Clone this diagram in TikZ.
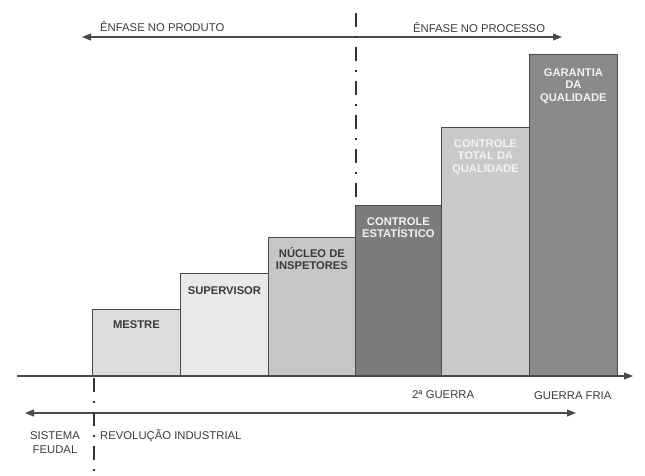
\documentclass[tikz,border=0pt]{standalone}
\usepackage{fontspec}
\setmainfont{Liberation Sans}
\usetikzlibrary{positioning,arrows.meta}
\definecolor{linegray}{HTML}{4A4A4A}
\definecolor{darktext}{HTML}{3A3A3A}
\definecolor{lighttext}{HTML}{F2F2F2}
\definecolor{fillmestre}{HTML}{DDDDDD}
\definecolor{fillsuper}{HTML}{E9E9E9}
\definecolor{fillnucleo}{HTML}{C6C6C6}
\definecolor{fillestat}{HTML}{7C7C7C}
\definecolor{filltotal}{HTML}{C9C9C9}
\definecolor{fillgarantia}{HTML}{8A8A8A}

\begin{document}
\begin{tikzpicture}[
    x=1pt,y=-1pt,
    bar/.style={draw=linegray,line width=0.8pt,anchor=south west,inner sep=0pt},
    barlabel/.style={font=\bfseries\fontsize{11.2}{12.5}\selectfont,align=center,inner sep=0pt},
    tag/.style={font=\fontsize{11.3}{14}\selectfont,text=darktext,inner sep=0pt},
    axis/.style={draw=linegray,line width=1.1pt},
    tip/.style={-{Triangle[length=9pt,width=7pt]}},
    divider/.style={draw=black!80,line width=2.5pt,dash pattern=on 14pt off 9pt on 2pt off 9pt}
]
\useasboundingbox (0,0) rectangle (645,475);

% degraus
\node[bar,fill=fillmestre,minimum width=88pt,minimum height=66pt] (mestre) at (92,376) {};
\node[bar,fill=fillsuper,minimum width=88pt,minimum height=102pt] (supervisor) at (180,376) {};
\node[bar,fill=fillnucleo,minimum width=87pt,minimum height=138pt] (nucleo) at (268,376) {};
\node[bar,fill=fillestat,minimum width=86pt,minimum height=170pt] (estatistico) at (355,376) {};
\node[bar,fill=filltotal,minimum width=88pt,minimum height=248pt] (total) at (441,376) {};
\node[bar,fill=fillgarantia,minimum width=88pt,minimum height=321pt] (garantia) at (529,376) {};

\node[barlabel,text=darktext,below=11pt of mestre.north] (lblmestre) {MESTRE};
\node[barlabel,text=darktext,below=13pt of supervisor.north] (lblsupervisor) {SUPERVISOR};
\node[barlabel,text=darktext,below=10pt of nucleo.north] (lblnucleo) {NÚCLEO DE\\INSPETORES};
\node[barlabel,text=lighttext,below=12pt of estatistico.north] (lblestatistico) {CONTROLE\\ESTATÍSTICO};
\node[barlabel,text=lighttext,below=12pt of total.north] (lbltotal) {CONTROLE\\TOTAL DA\\QUALIDADE};
\node[barlabel,text=lighttext,below=14pt of garantia.north] (lblgarantia) {GARANTIA\\DA\\QUALIDADE};

% eixo do tempo
\coordinate (axisstart) at (17,376);
\coordinate (axisend) at (633,376);
\draw[axis,tip] (axisstart) -- (axisend);

% enfase
\coordinate (enfleft) at (82,37);
\coordinate (enfright) at (562,37);
\draw[axis,{Triangle[length=9pt,width=7pt]}-{Triangle[length=9pt,width=7pt]}] (enfleft) -- (enfright);
\node[tag,anchor=base west] (produto) at (100,31) {ÊNFASE NO PRODUTO};
\node[tag,anchor=base west] (processo) at (413,32) {ÊNFASE NO PROCESSO};

\coordinate (divtop) at (356,13);
\coordinate (divbottom) at (356,198);
\draw[divider] (divtop) -- (divbottom);

% periodos
\coordinate (perleft) at (25,413);
\coordinate (perright) at (576,413);
\draw[axis,{Triangle[length=9pt,width=7pt]}-{Triangle[length=9pt,width=7pt]}] (perleft) -- (perright);

\coordinate (revtop) at (94,378);
\coordinate (revbottom) at (94,475);
\draw[divider] (revtop) -- (revbottom);

\node[tag,align=center,anchor=base] (feudal) at (55,453) {SISTEMA\\FEUDAL};
\node[tag,anchor=base west] (revolucao) at (100,439) {REVOLUÇÃO INDUSTRIAL};
\node[tag,anchor=base west] (guerra) at (412,398) {2ª GUERRA};
\node[tag,anchor=base west] (fria) at (534,399) {GUERRA FRIA};
\end{tikzpicture}
\end{document}
